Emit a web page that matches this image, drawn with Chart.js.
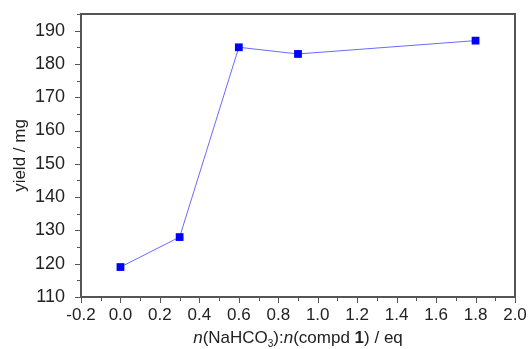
<!DOCTYPE html>
<html>
<head>
<meta charset="utf-8">
<script src="https://cdn.jsdelivr.net/npm/chart.js@4/dist/chart.umd.min.js"></script>
<style>
  html, body { margin: 0; padding: 0; background: #fff; }
  #wrap { width: 530px; height: 349px; }
</style>
</head>
<body>
<div id="wrap"><canvas id="yieldChart"></canvas></div>
<script>
// ratio NaHCO3 : compd 1 (eq) and yield (mg)
const ratios = [0, 0.3, 0.6, 0.9, 1.8];
const yields = [119, 128, 185, 183, 187];

const xMin = -0.2, xMax = 2.0, xMajor = 0.2, xMinor = 0.1;
const yMin = 110, yMax = 195, yMajor = 10, yMinor = 5;
const yTickValues = [110, 120, 130, 140, 150, 160, 170, 180, 190];

const axisColor = "#555555";
const fontFamily = "'Liberation Sans', Arial, sans-serif";

// frame, outward major/minor ticks and the rich x title
const framePlugin = {
  id: "frame",
  afterDraw(chart) {
    const { ctx, chartArea: a, scales } = chart;
    const xs = scales.x, ys = scales.y;
    ctx.save();
    ctx.strokeStyle = axisColor;
    ctx.lineWidth = 2;
    ctx.strokeRect(a.left, a.top, a.right - a.left, a.bottom - a.top);

    ctx.lineWidth = 1;
    ctx.beginPath();
    for (let i = 0; xMin + i * xMinor <= xMax + 1e-9; i++) {
      const v = xMin + i * xMinor;
      const px = Math.round(xs.getPixelForValue(v)) + 0.5;
      const len = i % 2 === 0 ? 6 : 4;
      ctx.moveTo(px, a.bottom);
      ctx.lineTo(px, a.bottom + len);
    }
    for (let i = 0; yMin + i * yMinor <= yMax + 1e-9; i++) {
      const v = yMin + i * yMinor;
      const py = Math.round(ys.getPixelForValue(v)) + 0.5;
      const len = i % 2 === 0 ? 6 : 4;
      ctx.moveTo(a.left, py);
      ctx.lineTo(a.left - len, py);
    }
    ctx.stroke();

    // x title: n(NaHCO3):n(compd 1) / eq
    const parts = [
      { t: "n", f: "italic 17px " + fontFamily },
      { t: "(NaHCO", f: "17px " + fontFamily },
      { t: "3", f: "10px " + fontFamily, dy: 4 },
      { t: "):", f: "17px " + fontFamily },
      { t: "n", f: "italic 17px " + fontFamily },
      { t: "(compd ", f: "17px " + fontFamily },
      { t: "1", f: "bold 17px " + fontFamily },
      { t: ") / eq", f: "17px " + fontFamily }
    ];
    let total = 0;
    parts.forEach(p => { ctx.font = p.f; p.w = ctx.measureText(p.t).width; total += p.w; });
    let x = (a.left + a.right) / 2 - total / 2;
    const baseY = 343;
    ctx.fillStyle = "#222";
    ctx.textBaseline = "alphabetic";
    ctx.textAlign = "left";
    parts.forEach(p => {
      ctx.font = p.f;
      ctx.fillText(p.t, x, baseY + (p.dy || 0));
      x += p.w;
    });
    ctx.restore();
  }
};

new Chart(document.getElementById("yieldChart"), {
  type: "scatter",
  data: {
    datasets: [{
      data: ratios.map((r, i) => ({ x: r, y: yields[i] })),
      showLine: true,
      borderColor: "#6a6aff",
      borderWidth: 1,
      backgroundColor: "#0000ff",
      pointBackgroundColor: "#0000ff",
      pointBorderColor: "#0000ff",
      pointStyle: "rect",
      pointRadius: 5.5,
      pointBorderWidth: 0
    }]
  },
  plugins: [framePlugin],
  options: {
    responsive: true,
    maintainAspectRatio: false,
    animation: false,
    layout: { padding: { left: 0, top: 14, right: 15, bottom: 0 } },
    plugins: { legend: { display: false }, tooltip: { enabled: false } },
    scales: {
      x: {
        type: "linear",
        min: xMin,
        max: xMax,
        afterFit(scale) {
          scale.height = 52;
          scale.paddingLeft = 0;
          scale.paddingRight = 0;
        },
        grid: { display: false },
        border: { display: false },
        ticks: {
          stepSize: xMajor,
          color: "#222",
          padding: 0,
          maxRotation: 0,
          font: { family: fontFamily, size: 17 },
          callback: v => v.toFixed(1)
        }
      },
      y: {
        type: "linear",
        min: yMin,
        max: yMax,
        afterFit(scale) {
          scale.width = 81;
          scale.paddingTop = 0;
          scale.paddingBottom = 0;
        },
        afterBuildTicks(scale) { scale.ticks = yTickValues.map(v => ({ value: v })); },
        grid: { display: false },
        border: { display: false },
        ticks: {
          color: "#222",
          padding: 8,
          font: { family: fontFamily, size: 18 }
        },
        title: {
          display: true,
          text: "yield / mg",
          color: "#222",
          padding: { top: 10, bottom: 4 },
          font: { family: fontFamily, size: 17 }
        }
      }
    }
  }
});
</script>
</body>
</html>
